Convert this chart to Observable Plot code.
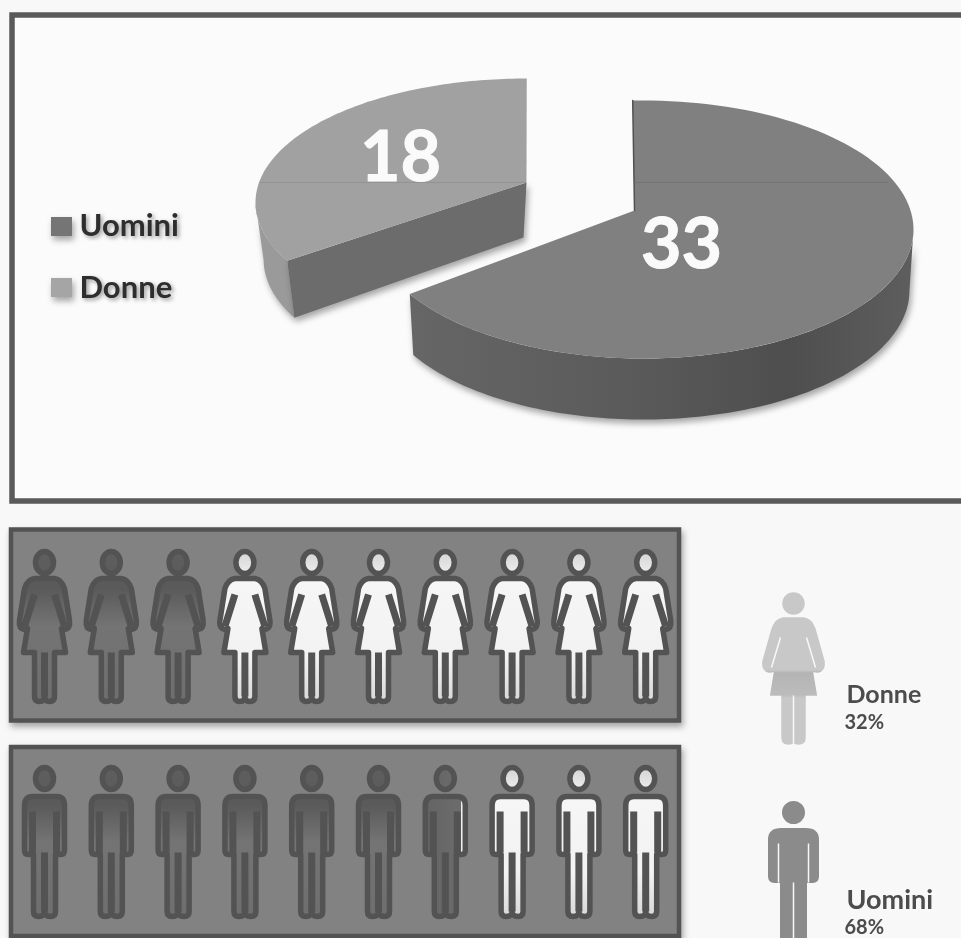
<!DOCTYPE html>
<html><head><meta charset="utf-8">
<script src="https://cdn.jsdelivr.net/npm/d3@7"></script>
<script src="https://cdn.jsdelivr.net/npm/@observablehq/plot@0.6"></script>
<style>
html,body{margin:0;padding:0;background:#f8f8f8;overflow:hidden}
svg{display:block;filter:blur(0.7px)}
.shadow{filter:drop-shadow(2px 4px 3px rgba(60,60,60,.45))}
.soft{filter:drop-shadow(2px 2px 2px rgba(70,70,70,.55))}
</style></head><body>
<script>
// Values
const pieLabels = ["Uomini", "Donne"];
const pieValues = [33, 18];
const shareLabels = ["Donne", "Uomini"];
const shareValues = [32, 68];
const pictogramSlots = d3.range(10);

const fmtShare = v => `${v}%`;
const FONT = "Lato, 'Open Sans', sans-serif";
const INK = "#535353";

// Pie slices (clockwise from top), with the photograph's perspective
const slices = d3.pie().sort(null).startAngle(0).endAngle(2 * Math.PI)(pieValues);
const toward = {
  Uomini: {ax: 634, ay: 210, cx: 643, cy: 229, rx: 270, ry: 129, phi: -0.04, stretch: 1.04, shrink: 0.985, depth: 61},
  Donne: {ax: 526, ay: 182, cx: 526, cy: 202, rx: 271, ry: 124, phi: 0.447, stretch: 0.929, shrink: 0.97, depth: 57}
};
const at = (g, a, drop = 0) => {
  const A = g.phi + g.stretch * a, k = drop ? g.shrink : 1;
  return {x: g.cx + k * g.rx * Math.sin(A), y: g.cy - g.ry * Math.cos(A) + drop};
};
const arc = (g, a0, a1, drop = 0) => d3.range(0, 121).map(i => at(g, a0 + (a1 - a0) * i / 120, drop));
const faceOf = (g, s) => [{x: g.ax, y: g.ay}, ...arc(g, s.startAngle, s.endAngle)];
const wallOf = (g, a0, a1) => [...arc(g, a0, a1), ...arc(g, a1, a0, g.depth)];
const uo = toward.Uomini, don = toward.Donne;
const [sU, sD] = slices;
const poly = (pts, fill, extra = {}) => Plot.line(pts, {x: "x", y: "y", fill, stroke: "none", curve: "linear", ...extra});

// Pictogram glyphs, in pixels around the head centre
const scaled = (size, fn) => fn(Math.sqrt(size / Math.PI) / 10);
const headPath = (c, s) => {
  const rx = 9 * s, ry = 11 * s, q = 0.5523;
  c.moveTo(rx, 0);
  c.bezierCurveTo(rx, ry * q, rx * q, ry, 0, ry);
  c.bezierCurveTo(-rx * q, ry, -rx, ry * q, -rx, 0);
  c.bezierCurveTo(-rx, -ry * q, -rx * q, -ry, 0, -ry);
  c.bezierCurveTo(rx * q, -ry, rx, -ry * q, rx, 0);
  c.closePath();
};
const plainHead = (c, s) => {
  const r = 9 * s;
  c.moveTo(r, 0); c.arc(0, 0, r, 0, 2 * Math.PI); c.closePath();
};
const trace = (c, s, pts) => { pts.forEach(([x, y], i) => i ? c.lineTo(x * s, y * s) : c.moveTo(x * s, y * s)); };
const womanBody = hx => (c, s) => {
  const h = hx;
  c.moveTo(-10 * s, 16 * s); c.lineTo(10 * s, 16 * s);
  c.quadraticCurveTo(17 * s, 17 * s, 20 * s, 26 * s);
  c.lineTo(h * s, 58 * s); c.quadraticCurveTo((h + 1) * s, 66 * s, (h - 5) * s, 67 * s);
  c.lineTo(17 * s, 66 * s); c.lineTo(21 * s, 90 * s); c.lineTo(10 * s, 90 * s); c.lineTo(10 * s, 134 * s);
  c.quadraticCurveTo(10 * s, 139 * s, 5 * s, 139 * s); c.quadraticCurveTo(0, 139 * s, 0, 134 * s);
  c.quadraticCurveTo(0, 139 * s, -5 * s, 139 * s); c.quadraticCurveTo(-10 * s, 139 * s, -10 * s, 134 * s);
  c.lineTo(-10 * s, 90 * s); c.lineTo(-21 * s, 90 * s); c.lineTo(-17 * s, 66 * s); c.lineTo(-(h - 5) * s, 67 * s);
  c.quadraticCurveTo(-(h + 1) * s, 66 * s, -h * s, 58 * s); c.lineTo(-20 * s, 26 * s);
  c.quadraticCurveTo(-17 * s, 17 * s, -10 * s, 16 * s); c.closePath();
};
const manBody = (ax, hy) => (c, s) => {
  c.moveTo(-12 * s, 18 * s); c.lineTo(12 * s, 18 * s);
  c.quadraticCurveTo(ax * s, 18 * s, ax * s, 27 * s); c.lineTo(ax * s, (hy - 4) * s);
  c.quadraticCurveTo(ax * s, hy * s, (ax - 4) * s, hy * s); c.lineTo(11 * s, hy * s); c.lineTo(11 * s, 133 * s);
  c.quadraticCurveTo(11 * s, 138 * s, 6 * s, 138 * s); c.quadraticCurveTo(0, 138 * s, 0, 133 * s);
  c.quadraticCurveTo(0, 138 * s, -6 * s, 138 * s); c.quadraticCurveTo(-11 * s, 138 * s, -11 * s, 133 * s);
  c.lineTo(-11 * s, hy * s); c.lineTo(-(ax - 4) * s, hy * s); c.quadraticCurveTo(-ax * s, hy * s, -ax * s, (hy - 4) * s);
  c.lineTo(-ax * s, 27 * s); c.quadraticCurveTo(-ax * s, 18 * s, -12 * s, 18 * s); c.closePath();
};
const womanBars = (c, s) => {
  trace(c, s, [[-10, 32], [-20, 64]]); trace(c, s, [[10, 32], [20, 64]]); trace(c, s, [[0, 90], [0, 134]]);
};
const manBars = (c, s) => {
  trace(c, s, [[-12, 33], [-12, 74]]); trace(c, s, [[12, 33], [12, 74]]); trace(c, s, [[0, 74], [0, 133]]);
};
const womanLines = (c, s) => {
  trace(c, s, [[-13, 34], [-22, 64]]); trace(c, s, [[13, 34], [22, 64]]); trace(c, s, [[0, 92], [0, 140]]);
};
const manLines = (c, s) => {
  trace(c, s, [[-15, 31], [-15, 70]]); trace(c, s, [[15, 31], [15, 70]]); trace(c, s, [[0, 70], [0, 140]]);
};
const glyph = (...parts) => ({draw(c, size) { scaled(size, s => parts.forEach(p => p(c, s))); }});

// Gradients
const defs = () => {
  const d = d3.create("svg:defs");
  const grad = (id, stops, dir = [0, 0, 0, 1]) => {
    const g = d.append("linearGradient").attr("id", id)
      .attr("x1", dir[0]).attr("y1", dir[1]).attr("x2", dir[2]).attr("y2", dir[3]);
    stops.forEach(([o, c]) => g.append("stop").attr("offset", o).attr("stop-color", c));
  };
  grad("dark", [[0, "#5e5e5e"], [.25, "#5a5a5a"], [.5, "#747474"], [1, "#6e6e6e"]]);
  grad("light", [[0, "#d4d4d4"], [.2, "#f6f6f6"], [.7, "#f2f2f2"], [1, "#d8d8d8"]]);
  grad("part", [[0, "#646464"], [.9, "#6c6c6c"], [.9, "#f0f0f0"], [1, "#f0f0f0"]], [0, 0, 1, 0]);
  grad("wall", [[0, "#666666"], [.45, "#5a5a5a"], [.75, "#4e4e4e"], [1, "#5e5e5e"]], [0, 0, 1, 0]);
  grad("dress", [[0, "#c8c8c8"], [.51, "#c8c8c8"], [.53, "#b4b4b4"], [.68, "#bcbcbc"], [.7, "#c8c8c8"], [1, "#c8c8c8"]]);
  return d.node();
};
const iconFill = (i, share) => {
  const n = share / 10;
  return i < Math.floor(n) ? "url(#dark)" : n - i > 0.5 ? "url(#part)" : "url(#light)";
};
const slotX = i => 44 + 66.8 * i;
const iconRow = (y, share, body, bars) => [
  Plot.dot(pictogramSlots, {x: slotX, y: () => y, r: 10, symbol: glyph(headPath, body),
    fill: i => iconFill(i, share), stroke: INK, strokeWidth: 5.5, strokeLinejoin: "round"}),
  Plot.dot(pictogramSlots, {x: slotX, y: () => y, r: 10, symbol: glyph(bars),
    fill: "none", stroke: INK, strokeWidth: 7})
];

const panel = (y1, y2) => Plot.rect([0], {x1: () => 11, x2: () => 679, y1: () => y1, y2: () => y2,
  fill: "#828282", stroke: INK, strokeWidth: 4.5, className: "shadow"});

const chart = Plot.plot({
  width: 961, height: 938, margin: 0,
  x: {domain: [0, 961], range: [0, 961], axis: null},
  y: {domain: [0, 938], range: [0, 938], axis: null},
  style: {background: "#f8f8f8"},
  marks: [
    defs,
    // outer frame
    Plot.rect([0], {x1: () => 12, x2: () => 975, y1: () => 15, y2: () => 501, fill: "#fbfbfb", stroke: "#5a5a5a", strokeWidth: 5.5}),

    // Donne slice
    poly(wallOf(don, sD.startAngle, sD.startAngle + 0.52), "#9a9a9a", {className: "shadow"}),
    poly([at(don, sD.startAngle), {x: don.ax, y: don.ay}, {x: don.ax - 3, y: don.ay + don.depth - 2}, at(don, sD.startAngle, don.depth)], "#6c6c6c", {className: "shadow"}),
    poly(faceOf(don, sD), "#a1a1a1"),

    // Uomini slice
    poly(wallOf(uo, 1.55, sU.endAngle), "url(#wall)", {className: "shadow"}),
    poly(faceOf(uo, sU), "#808080"),
    Plot.line([at(uo, 0), {x: uo.ax, y: uo.ay}], {x: "x", y: "y", stroke: "#505050", strokeWidth: 1.5}),

    // faint scan line across the slices
    Plot.ruleY([182], {x1: 259, x2: 526, stroke: "#8a8a8a", strokeWidth: 1, strokeOpacity: 0.6}),
    Plot.ruleY([182], {x1: 634, x2: 888, stroke: "#6c6c6c", strokeWidth: 1, strokeOpacity: 0.6}),

    // pie value labels
    Plot.text([pieValues[1]], {x: () => 400, y: () => 158, text: d => d, fill: "#fafafa", stroke: "#fafafa", strokeWidth: 1, fontSize: 70, fontWeight: 700, fontFamily: FONT}),
    Plot.text([pieValues[0]], {x: () => 681, y: () => 245, text: d => d, fill: "#fafafa", stroke: "#fafafa", strokeWidth: 1, fontSize: 70, fontWeight: 700, fontFamily: FONT}),

    // legend
    Plot.rect(pieLabels, {x1: () => 51, x2: () => 72, y1: (d, i) => 217 + 61 * i, y2: (d, i) => 236 + 61 * i,
      fill: (d, i) => i ? "#a5a5a5" : "#757575", className: "shadow"}),
    Plot.text(pieLabels, {x: () => 79, y: (d, i) => 226 + 62 * i, text: d => d, textAnchor: "start", fill: "#2e2e2e",
      fontSize: 31, fontWeight: 700, fontFamily: FONT, className: "soft"}),

    // pictogram panels
    panel(529.5, 720.5),
    panel(747, 936),
    ...iconRow(562, shareValues[0], womanBody(25), womanBars),
    ...iconRow(778, shareValues[1], manBody(20, 76), manBars),

    // plain figures on the right
    Plot.dot([shareLabels[0]], {x: () => 793, y: () => 603, r: 10, symbol: glyph(plainHead, womanBody(29)), fill: "url(#dress)", stroke: "url(#dress)", strokeWidth: 4.5}),
    Plot.dot([shareLabels[0]], {x: () => 793, y: () => 603, r: 10, symbol: glyph(womanLines), fill: "none", stroke: "#f8f8f8", strokeWidth: 1.5}),
    Plot.dot([shareLabels[1]], {x: () => 793, y: () => 812, r: 10, symbol: glyph(plainHead, manBody(23, 68)), fill: "#8b8b8b", stroke: "#8b8b8b", strokeWidth: 5}),
    Plot.dot([shareLabels[1]], {x: () => 793, y: () => 812, r: 10, symbol: glyph(manLines), fill: "none", stroke: "#f8f8f8", strokeWidth: 1.5}),

    // share labels
    Plot.text(shareLabels, {x: () => 846, y: (d, i) => 694 + 206 * i, text: d => d, textAnchor: "start", fill: "#4c4c4c", fontSize: (d, i) => 25 + 2 * i, fontWeight: 700, fontFamily: FONT}),
    Plot.text(shareValues, {x: () => 844, y: (d, i) => 722 + 205 * i, text: fmtShare, textAnchor: "start", fill: "#4c4c4c", fontSize: 20, fontWeight: 700, fontFamily: FONT})
  ]
});
document.body.append(chart);
</script></body></html>
